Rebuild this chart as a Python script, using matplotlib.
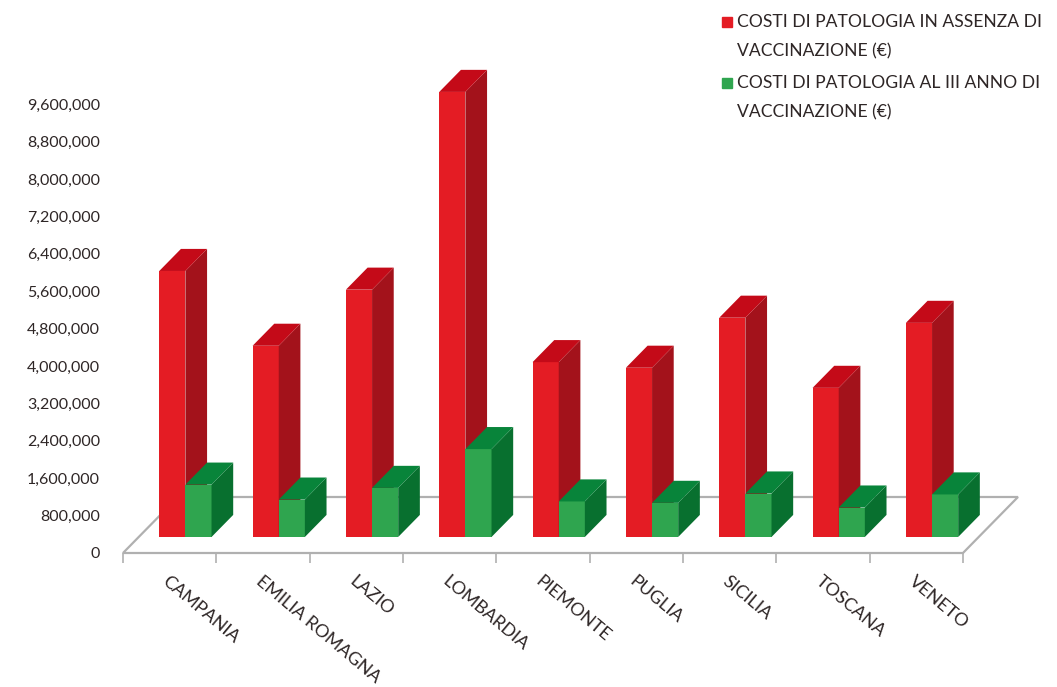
import matplotlib
matplotlib.use("Agg")
import matplotlib.pyplot as plt
from matplotlib.patches import Polygon, Rectangle
from matplotlib.ticker import StrMethodFormatter
from matplotlib.transforms import offset_copy

plt.rcParams['font.family'] = ['Lato', 'DejaVu Sans']

regioni = ["CAMPANIA", "EMILIA ROMAGNA", "LAZIO", "LOMBARDIA", "PIEMONTE",
           "PUGLIA", "SICILIA", "TOSCANA", "VENETO"]
costi_senza = [5690000, 4090000, 5290000, 9520000, 3740000, 3620000, 4690000, 3190000, 4580000]
costi_III = [1120000, 800000, 1050000, 1880000, 760000, 730000, 930000, 630000, 910000]
y_ticks = list(range(0, 9600001, 800000))
legend_labels = [["COSTI DI PATOLOGIA IN ASSENZA DI", "VACCINAZIONE (€)"],
                 ["COSTI DI PATOLOGIA AL III ANNO DI", "VACCINAZIONE (€)"]]

# front / side / top colours for each series
red = ["#e41c24", "#a3121b", "#c40a18"]
green = ["#2fa54f", "#08702f", "#08843a"]
txt_col = "#2e2626"

W, H = 1057, 687
fig = plt.figure(figsize=(W / 100, H / 100), dpi=100)
ax = fig.add_axes([104 / W, 0, 1 - 104 / W, 1])

# pixel scale of the picture
PX_CAT = 93.33
PX_UNIT = 46.75 / 1e6
X0, Y0 = 123, 553
ax.set_xlim((104 - X0) / PX_CAT, (W - X0) / PX_CAT)
ax.set_ylim(-(H - Y0) / PX_UNIT, Y0 / PX_UNIT)

# oblique depth direction of the floor
DX = 55 / PX_CAT
DY = 56 / PX_UNIT
d0, d1 = 0.286, 0.68
n = len(regioni)

floor = Polygon([(0, 0), (n, 0), (n + DX, DY), (DX, DY)], closed=True,
                facecolor="white", edgecolor="#b0b0b0", lw=1.6, zorder=1)
ax.add_patch(floor)

w = 0.28


def bar3d(xl, v, cols, z):
    xr = xl + w
    ax.bar(xl + d0 * DX, v, width=w, bottom=d0 * DY, align="edge",
           color=cols[0], lw=0, zorder=z)
    side = [(xr + d0 * DX, d0 * DY), (xr + d1 * DX, d1 * DY),
            (xr + d1 * DX, v + d1 * DY), (xr + d0 * DX, v + d0 * DY)]
    top = [(xl + d0 * DX, v + d0 * DY), (xr + d0 * DX, v + d0 * DY),
           (xr + d1 * DX, v + d1 * DY), (xl + d1 * DX, v + d1 * DY)]
    ax.add_patch(Polygon(side, closed=True, facecolor=cols[1], lw=0, zorder=z))
    ax.add_patch(Polygon(top, closed=True, facecolor=cols[2], lw=0, zorder=z))


for i in range(n):
    bar3d(i + 0.5 - w, costi_senza[i], red, 2)
    bar3d(i + 0.5, costi_III[i], green, 3)

# axes styling
for s in ["top", "right", "left"]:
    ax.spines[s].set_visible(False)
ax.spines["bottom"].set_position(("data", 0))
ax.spines["bottom"].set_color("none")
ax.set_xticks(range(n + 1))
ax.set_xticklabels([])
ax.tick_params(axis="x", length=7, width=1.2, color="#b0b0b0")
ax.set_yticks(y_ticks)
ax.yaxis.set_major_formatter(StrMethodFormatter("{x:,.0f}"))
ax.tick_params(axis="y", length=0, pad=3, labelsize=11.5, labelcolor=txt_col)

trans = offset_copy(ax.transData, fig=fig, x=0, y=-20, units="dots")
for i, r in enumerate(regioni):
    ax.text(i + 0.5, 0, r, transform=trans, rotation=-40, rotation_mode="anchor",
            ha="left", va="top", fontsize=13, color=txt_col)

# legend
for k, (lines, col) in enumerate(zip(legend_labels, [red[0], green[0]])):
    y1 = [22, 83][k]
    fig.add_artist(Rectangle((722 / W, 1 - (y1 + 5) / H), 10 / W, 10 / H,
                             transform=fig.transFigure, color=col))
    for j, line in enumerate(lines):
        fig.text(737 / W, 1 - (y1 + j * 29) / H, line, ha="left", va="center",
                 fontsize=12.6, color=txt_col)

fig.savefig("out.png", dpi=100)
